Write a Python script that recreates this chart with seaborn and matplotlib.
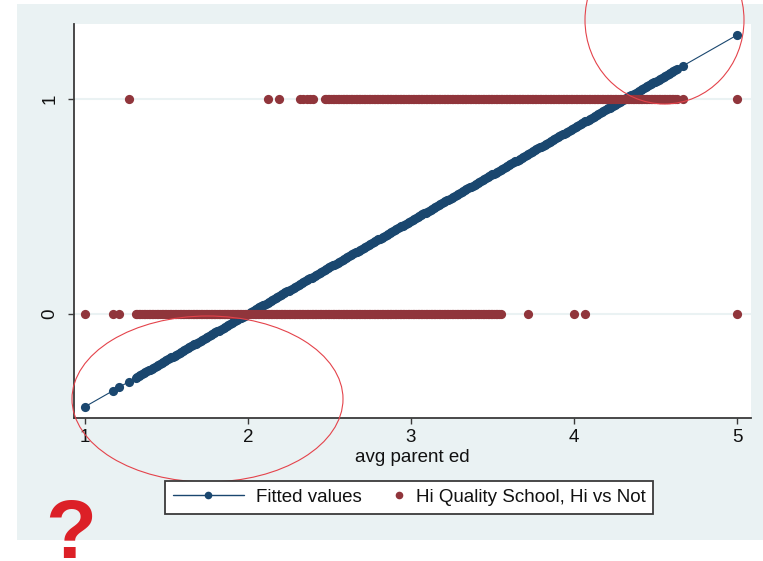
import numpy as np
import pandas as pd
import matplotlib
matplotlib.use("Agg")
import matplotlib.pyplot as plt
from matplotlib.lines import Line2D
from matplotlib.patches import Ellipse, Rectangle
from matplotlib.legend_handler import HandlerBase
import seaborn as sns

# Observed avg parent ed for students outside high-quality schools (outcome = 0)
hiq_zero_x = [
    1.00, 1.17, 1.21,
    1.31, 1.32, 1.33, 1.34, 1.35, 1.36, 1.37, 1.38, 1.39, 1.40,
    1.41, 1.42, 1.43, 1.44, 1.45, 1.46, 1.47, 1.48, 1.49, 1.50,
    1.51, 1.52, 1.53, 1.54, 1.55, 1.56, 1.57, 1.58, 1.59, 1.60,
    1.61, 1.62, 1.63, 1.64, 1.65, 1.66, 1.67, 1.68, 1.69, 1.70,
    1.71, 1.72, 1.73, 1.74, 1.75, 1.76, 1.77, 1.78, 1.79, 1.80,
    1.81, 1.82, 1.83, 1.84, 1.85, 1.86, 1.87, 1.88, 1.89, 1.90,
    1.91, 1.92, 1.93, 1.94, 1.95, 1.96, 1.97, 1.98, 1.99, 2.00,
    2.01, 2.02, 2.03, 2.04, 2.05, 2.06, 2.07, 2.08, 2.09, 2.10,
    2.11, 2.12, 2.13, 2.14, 2.15, 2.16, 2.17, 2.18, 2.19, 2.20,
    2.21, 2.22, 2.23, 2.24, 2.25, 2.26, 2.27, 2.28, 2.29, 2.30,
    2.31, 2.32, 2.33, 2.34, 2.35, 2.36, 2.37, 2.38, 2.39, 2.40,
    2.41, 2.42, 2.43, 2.44, 2.45, 2.46, 2.47, 2.48, 2.49, 2.50,
    2.51, 2.52, 2.53, 2.54, 2.55, 2.56, 2.57, 2.58, 2.59, 2.60,
    2.61, 2.62, 2.63, 2.64, 2.65, 2.66, 2.67, 2.68, 2.69, 2.70,
    2.71, 2.72, 2.73, 2.74, 2.75, 2.76, 2.77, 2.78, 2.79, 2.80,
    2.81, 2.82, 2.83, 2.84, 2.85, 2.86, 2.87, 2.88, 2.89, 2.90,
    2.91, 2.92, 2.93, 2.94, 2.95, 2.96, 2.97, 2.98, 2.99, 3.00,
    3.01, 3.02, 3.03, 3.04, 3.05, 3.06, 3.07, 3.08, 3.09, 3.10,
    3.11, 3.12, 3.13, 3.14, 3.15, 3.16, 3.17, 3.18, 3.19, 3.20,
    3.21, 3.22, 3.23, 3.24, 3.25, 3.26, 3.27, 3.28, 3.29, 3.30,
    3.31, 3.32, 3.33, 3.34, 3.35, 3.36, 3.37, 3.38, 3.39, 3.40,
    3.41, 3.42, 3.43, 3.44, 3.45, 3.46, 3.47, 3.48, 3.49, 3.50,
    3.51, 3.52, 3.53, 3.54, 3.55,
    3.72, 4.00, 4.07, 5.00,
]

# Observed avg parent ed for students in high-quality schools (outcome = 1)
hiq_one_x = [
    1.27, 2.12, 2.19, 2.32, 2.34, 2.36, 2.38, 2.40,
    2.47, 2.48, 2.49, 2.50,
    2.51, 2.52, 2.53, 2.54, 2.55, 2.56, 2.57, 2.58, 2.59, 2.60,
    2.61, 2.62, 2.63, 2.64, 2.65, 2.66, 2.67, 2.68, 2.69, 2.70,
    2.71, 2.72, 2.73, 2.74, 2.75, 2.76, 2.77, 2.78, 2.79, 2.80,
    2.81, 2.82, 2.83, 2.84, 2.85, 2.86, 2.87, 2.88, 2.89, 2.90,
    2.91, 2.92, 2.93, 2.94, 2.95, 2.96, 2.97, 2.98, 2.99, 3.00,
    3.01, 3.02, 3.03, 3.04, 3.05, 3.06, 3.07, 3.08, 3.09, 3.10,
    3.11, 3.12, 3.13, 3.14, 3.15, 3.16, 3.17, 3.18, 3.19, 3.20,
    3.21, 3.22, 3.23, 3.24, 3.25, 3.26, 3.27, 3.28, 3.29, 3.30,
    3.31, 3.32, 3.33, 3.34, 3.35, 3.36, 3.37, 3.38, 3.39, 3.40,
    3.41, 3.42, 3.43, 3.44, 3.45, 3.46, 3.47, 3.48, 3.49, 3.50,
    3.51, 3.52, 3.53, 3.54, 3.55, 3.56, 3.57, 3.58, 3.59, 3.60,
    3.61, 3.62, 3.63, 3.64, 3.65, 3.66, 3.67, 3.68, 3.69, 3.70,
    3.71, 3.72, 3.73, 3.74, 3.75, 3.76, 3.77, 3.78, 3.79, 3.80,
    3.81, 3.82, 3.83, 3.84, 3.85, 3.86, 3.87, 3.88, 3.89, 3.90,
    3.91, 3.92, 3.93, 3.94, 3.95, 3.96, 3.97, 3.98, 3.99, 4.00,
    4.01, 4.02, 4.03, 4.04, 4.05, 4.06, 4.07, 4.08, 4.09, 4.10,
    4.11, 4.12, 4.13, 4.14, 4.15, 4.16, 4.17, 4.18, 4.19, 4.20,
    4.21, 4.22, 4.23, 4.24, 4.25, 4.26, 4.27, 4.28, 4.29, 4.30,
    4.31, 4.32, 4.33, 4.34, 4.35, 4.36, 4.37, 4.38, 4.39, 4.40,
    4.41, 4.42, 4.43, 4.44, 4.45, 4.46, 4.47, 4.48, 4.49, 4.50,
    4.51, 4.52, 4.53, 4.54, 4.55, 4.56, 4.57, 4.58, 4.59, 4.60,
    4.61, 4.62, 4.63,
    4.67, 5.00,
]

# Linear probability model coefficients
fit_intercept = -0.862
fit_slope = 0.4315

x_ticks = [1, 2, 3, 4, 5]
y_ticks = [0, 1]
x_label = "avg parent ed"
series_names = ["Fitted values", "Hi Quality School, Hi vs Not"]

BLUE = "#1a476f"
MAROON = "#90353b"
BG = "#eaf2f3"
INK = "#3a3a3a"
ANNOT = "#e4434b"

sns.set_style("ticks")
plt.rcParams["font.family"] = ["Liberation Sans", "DejaVu Sans"]
plt.rcParams["text.color"] = "#111111"
plt.rcParams["axes.labelcolor"] = "#111111"

obs = pd.DataFrame({
    "avg parent ed": hiq_zero_x + hiq_one_x,
    "hiq": [0] * len(hiq_zero_x) + [1] * len(hiq_one_x),
})
fit_x = np.unique(obs["avg parent ed"].to_numpy())
fitted = pd.DataFrame({"avg parent ed": fit_x,
                       "fitted": fit_intercept + fit_slope * fit_x})

W, H = 763, 561
fig = plt.figure(figsize=(W / 100, H / 100), dpi=100)
fig.patch.set_facecolor("white")

# graph region backdrop
fig.add_artist(Rectangle((17 / W, 1 - 540 / H), 746 / W, 536 / H,
                         transform=fig.transFigure, facecolor=BG,
                         edgecolor="none", zorder=-10))

ax = fig.add_axes([74 / W, 1 - 418 / H, 677 / W, 394 / H])
ax.set_facecolor("white")

sns.lineplot(data=fitted, x="avg parent ed", y="fitted", ax=ax,
             color=BLUE, linewidth=0.8, marker="o", markersize=6.6,
             markeredgewidth=0, estimator=None, sort=True, zorder=2)
sns.scatterplot(data=obs, x="avg parent ed", y="hiq", ax=ax,
                color=MAROON, s=44, linewidth=0, zorder=3, legend=False)

ax.set_xlim(0.9325, 5.086)
ax.set_ylim(-0.483, 1.347)
ax.set_xticks(x_ticks)
ax.set_yticks(y_ticks)
ax.yaxis.grid(True, color=BG, linewidth=1.5)
ax.xaxis.grid(False)
ax.set_axisbelow(True)

for side in ["top", "right"]:
    ax.spines[side].set_visible(False)
for side in ["left", "bottom"]:
    ax.spines[side].set_color(INK)
    ax.spines[side].set_linewidth(1.3)

ax.tick_params(length=4.5, width=1, color=INK, labelsize=13.5,
               labelcolor="#111111")
ax.tick_params(axis="x", pad=3.3)
ax.tick_params(axis="y", pad=6.5, labelrotation=90)
for lbl in ax.get_yticklabels():
    lbl.set_va("center")

ax.set_xlabel(x_label, fontsize=13.5, labelpad=2.2)
ax.set_ylabel("")


class MarkerAtRight(HandlerBase):
    """Legend key with a lone marker sitting next to its label."""

    def create_artists(self, legend, orig_handle, xdescent, ydescent,
                       width, height, fontsize, trans):
        x = -xdescent + width - 0.27 * fontsize
        y = (height - ydescent) / 2
        m = Line2D([x], [y], linestyle="none",
                   marker=orig_handle.get_marker(),
                   markersize=orig_handle.get_markersize(),
                   color=orig_handle.get_color(), markeredgewidth=0)
        m.set_transform(trans)
        return [m]


handles = [
    Line2D([], [], color=BLUE, linewidth=1.0, marker="o", markersize=5.5,
           markeredgewidth=0),
    Line2D([], [], color=MAROON, linestyle="none", marker="o",
           markersize=5.5, markeredgewidth=0),
]
leg = fig.legend(handles, series_names, loc="upper center",
                 bbox_to_anchor=(409 / W, 1 - 481 / H), ncol=2,
                 frameon=True, fancybox=False, edgecolor=INK,
                 facecolor="white", framealpha=1, fontsize=13.5,
                 handlelength=3.8, handletextpad=0.64, columnspacing=-1.55,
                 borderpad=0.42, borderaxespad=0, numpoints=1,
                 handler_map={handles[1]: MarkerAtRight()})
leg.get_frame().set_linewidth(1.3)

# hand-drawn emphasis on the out-of-range fitted values
fig.add_artist(Ellipse((207.5 / W, 1 - 399 / H), 271 / W, 166 / H,
                       transform=fig.transFigure, fill=False,
                       edgecolor=ANNOT, linewidth=0.8, zorder=5))
fig.add_artist(Ellipse((664.5 / W, 1 - 20 / H), 159 / W, 168 / H,
                       transform=fig.transFigure, fill=False,
                       edgecolor=ANNOT, linewidth=0.8, zorder=5))

fig.text(70.5 / W, 1 - 558 / H, "?", fontsize=60, fontweight="bold",
         color="#dc2027", ha="center", va="baseline", zorder=6)

fig.savefig("out.png", dpi=100)
